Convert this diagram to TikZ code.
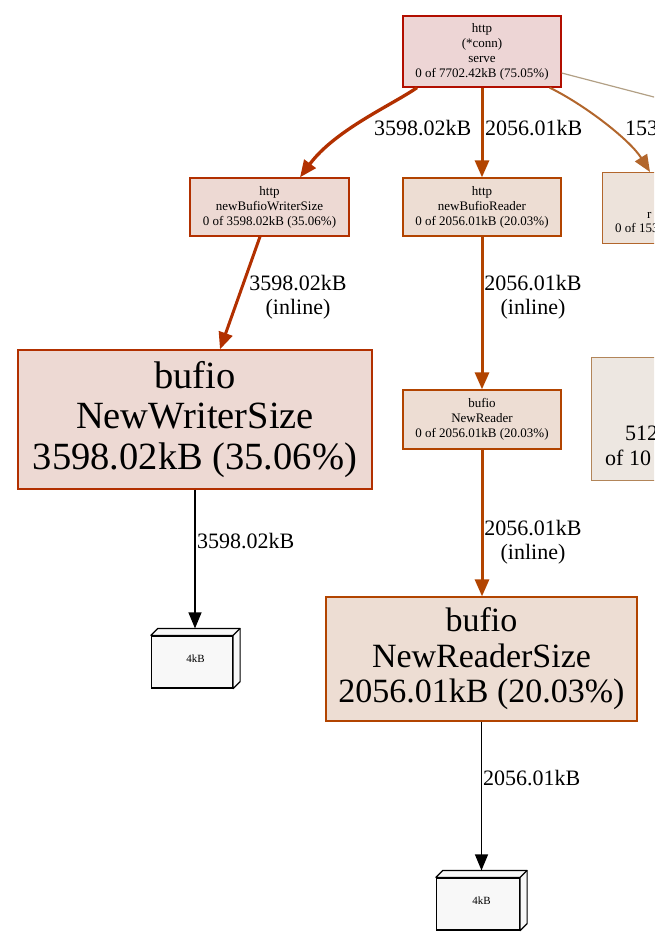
\documentclass[tikz,border=0pt]{standalone}
\usepackage{fontspec}
\setmainfont{Liberation Serif}
\usetikzlibrary{arrows.meta,calc}
\definecolor{bgserve}{HTML}{EDD5D5}
\definecolor{fgserve}{HTML}{B20E00}
\definecolor{bgw}{HTML}{EDD9D3}
\definecolor{fgw}{HTML}{B23000}
\definecolor{bgr}{HTML}{EDDDD3}
\definecolor{fgr}{HTML}{B24400}
\definecolor{bgra}{HTML}{EDE3DB}
\definecolor{fgra}{HTML}{B2662C}
\definecolor{bgrb}{HTML}{EDE7E1}
\definecolor{fgrb}{HTML}{B28559}
\definecolor{thinedge}{HTML}{B2A085}
\definecolor{boxfill}{HTML}{F8F8F8}
\newcommand\fsmall{\fontsize{13}{15}\selectfont}
\newcommand\ftiny{\fontsize{11}{13}\selectfont}
\newcommand\flab{\fontsize{22}{24}\selectfont}
\newcommand\fbigA{\fontsize{38.5}{40.5}\selectfont}
\newcommand\fbigB{\fontsize{34}{35.5}\selectfont}
\newcommand\fmid{\fontsize{22}{25}\selectfont}
\begin{document}
\begin{tikzpicture}[x=1pt,y=-1pt,
  fnode/.style={draw, rectangle, line width=1.3pt, inner sep=0pt, align=center},
  smallnode/.style={fnode, font=\fsmall},
  elab/.style={font=\flab, inner sep=0pt, align=center},
  frag/.style={inner sep=0pt, anchor=base west},
  arr/.style={-{Triangle[length=16pt,width=13pt]}},
  arrthick/.style={-{Triangle[length=17pt,width=14pt]}},
  box3/.style={draw, line width=1.2pt, fill=boxfill, inner sep=0pt},
  boxtext/.style={font=\ftiny, inner sep=0pt}
]
\useasboundingbox (0,0) rectangle (654,947);
\clip (0,0) rectangle (654,947);

% nodes
\node[smallnode, fill=bgserve, draw=fgserve, minimum width=158pt, minimum height=71pt] (serve) at (482,51.5)
  {http\\(*conn)\\serve\\0 of 7702.42kB (75.05\%)};
\node[smallnode, fill=bgw, draw=fgw, minimum width=159pt, minimum height=58pt] (nbws) at (269.5,207)
  {http\\newBufioWriterSize\\0 of 3598.02kB (35.06\%)};
\node[smallnode, fill=bgr, draw=fgr, minimum width=158pt, minimum height=58pt] (nbr) at (482,207)
  {http\\newBufioReader\\0 of 2056.01kB (20.03\%)};
\node[fnode, fill=bgra, draw=fgra, minimum width=120pt, minimum height=71pt, anchor=north west] (rna) at (602,172) {};
\node[frag, font=\fsmall] (rnaa) at (647,218) {r};
\node[frag, font=\fsmall] (rnab) at (615,232.5) {0 of 153};
\node[fnode, font=\fbigA, fill=bgw, draw=fgw, minimum width=354pt, minimum height=139pt] (nws) at (195,419.5)
  {bufio\\NewWriterSize\\3598.02kB (35.06\%)};
\node[smallnode, fill=bgr, draw=fgr, minimum width=158pt, minimum height=59pt] (nr) at (482,419.5)
  {bufio\\NewReader\\0 of 2056.01kB (20.03\%)};
\node[fnode, fill=bgrb, draw=fgrb, minimum width=120pt, minimum height=123pt, anchor=north west] (rnb) at (591,357) {};
\node[frag, font=\fmid] (rnba) at (625,440.5) {512};
\node[frag, font=\fmid] (rnbb) at (605,465.5) {of 10};
\node[fnode, font=\fbigB, fill=bgr, draw=fgr, minimum width=311pt, minimum height=124pt] (nrs) at (481.5,659)
  {bufio\\NewReaderSize\\2056.01kB (20.03\%)};

% 3d boxes
\node[box3, minimum width=81pt, minimum height=52pt] (ba) at (192,662) {};
\draw[line width=1.2pt, fill=boxfill, line join=round] (ba.north west) -- ++(7,-7) -- ($(ba.north east)+(7,-7)$) -- ($(ba.south east)+(7,-7)$) -- (ba.south east) -- (ba.north east) -- cycle;
\draw[line width=1.2pt] (ba.north east) -- ++(7,-7);
\node[boxtext] (bat) at ($(ba.center)+(3.5,-3)$) {4kB};
\coordinate (batop) at ($(ba.north)+(3,-7)$);

\node[box3, minimum width=83pt, minimum height=52pt] (bb) at (478,904) {};
\draw[line width=1.2pt, fill=boxfill, line join=round] (bb.north west) -- ++(7,-7) -- ($(bb.north east)+(7,-7)$) -- ($(bb.south east)+(7,-7)$) -- (bb.south east) -- (bb.north east) -- cycle;
\draw[line width=1.2pt] (bb.north east) -- ++(7,-7);
\node[boxtext] (bbt) at ($(bb.center)+(3.5,-3)$) {4kB};
\coordinate (bbtop) at ($(bb.north)+(3.5,-7)$);

% edges
\draw[arrthick, fgw, line width=3.3pt] ($(serve.south)+(-65,0)$) .. controls (392,105) and (335,130) .. ($(nbws.north)+(30.5,0)$);
\draw[arrthick, fgr, line width=3pt] (serve.south) -- (nbr.north);
\draw[arrthick, fgra, line width=2pt] ($(serve.south east)+(-12,0)$) .. controls (585,105) and (630,140) .. ($(rna.north west)+(48,0)$);
\coordinate (offr) at (700,109);
\draw[thinedge, line width=1.2pt] ($(serve.east)+(0,21.5)$) -- (offr);
\draw[arrthick, fgw, line width=3pt] ($(nbws.south)+(-9.5,0)$) -- ($(nws.north)+(25,0)$);
\draw[arrthick, fgr, line width=3pt] (nbr.south) -- (nr.north);
\draw[arr, black, line width=1.2pt] (nws.south) -- (batop);
\draw[arrthick, fgr, line width=3pt] (nr.south) -- (nr.south |- nrs.north);
\draw[arr, black, line width=1.2pt] (nrs.south) -- (bbtop);

% edge labels
\node[elab, anchor=west] (l1) at (374,128) {3598.02kB};
\node[elab, anchor=west] (l2) at (485,128) {2056.01kB};
\node[elab, anchor=west] (l3) at (625,128) {153};
\node[elab] (l4) at (298,297) {3598.02kB\\(inline)};
\node[elab] (l5) at (533,297) {2056.01kB\\(inline)};
\node[elab, anchor=west] (l6) at (197,541) {3598.02kB};
\node[elab] (l7) at (533,542) {2056.01kB\\(inline)};
\node[elab, anchor=west] (l8) at (483,778) {2056.01kB};
\end{tikzpicture}
\end{document}
